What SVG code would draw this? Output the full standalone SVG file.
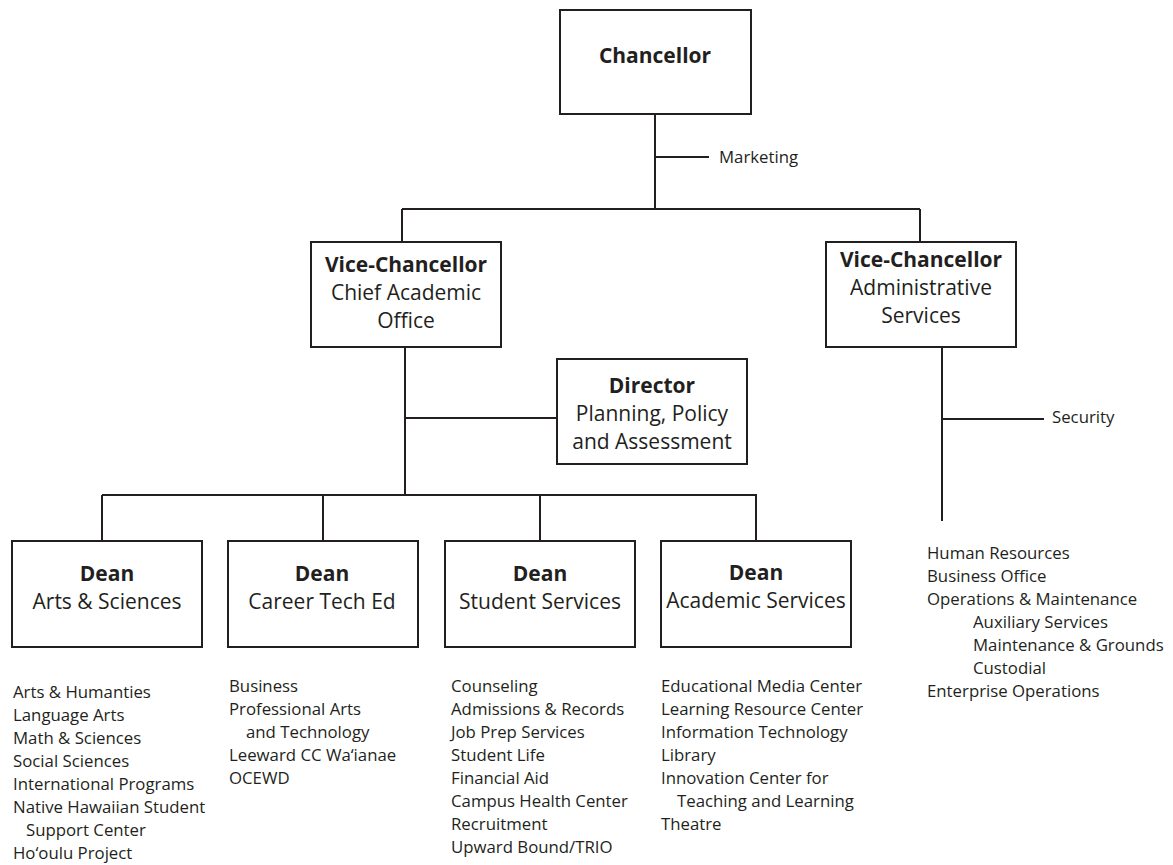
<svg xmlns="http://www.w3.org/2000/svg" width="1173" height="865" viewBox="0 0 1173 865">
<style>
  .box { fill: #ffffff; stroke: #231f20; stroke-width: 2; }
  .ln { fill: none; stroke: #231f20; stroke-width: 2; }
  text { font-family: "Open Sans", "Noto Sans", "Liberation Sans", sans-serif; fill: #231f20; }
  .t { font-size: 21px; text-anchor: middle; }
  .b { font-weight: bold; }
  .l { font-size: 16.8px; }
</style>
<rect width="1173" height="865" fill="#ffffff"/>
<g id="connectors">
  <path class="ln" d="M655 114 V209 M655 157 H709 M402 209 H920 M402 209 V242 M920 209 V242"/>
  <path class="ln" d="M405 347 V495 M405 418 H556 M102 495 H757 M102 495 V541 M323 495 V541 M540 495 V541 M756 495 V541"/>
  <path class="ln" d="M942 347 V521 M942 419 H1044"/>
</g>
<g id="chancellor">
  <rect class="box" x="560" y="10" width="191" height="104"/>
  <text class="t b" x="655" y="63">Chancellor</text>
</g>
<g id="marketing">
  <text class="l" x="719" y="163">Marketing</text>
</g>
<g id="vc-academic">
  <rect class="box" x="311" y="242" width="190" height="105"/>
  <text class="t b" x="406" y="272">Vice-Chancellor</text>
  <text class="t" x="406" y="300">Chief Academic</text>
  <text class="t" x="406" y="328">Office</text>
</g>
<g id="vc-admin">
  <rect class="box" x="826" y="242" width="190" height="105"/>
  <text class="t b" x="921" y="267">Vice-Chancellor</text>
  <text class="t" x="921" y="295">Administrative</text>
  <text class="t" x="921" y="323">Services</text>
</g>
<g id="security">
  <text class="l" x="1052" y="423">Security</text>
</g>
<g id="director">
  <rect class="box" x="557" y="359" width="190" height="105"/>
  <text class="t b" x="652" y="393">Director</text>
  <text class="t" x="652" y="421">Planning, Policy</text>
  <text class="t" x="652" y="449">and Assessment</text>
</g>
<g id="dean-arts">
  <rect class="box" x="12" y="541" width="190" height="106"/>
  <text class="t b" x="107" y="581">Dean</text>
  <text class="t" x="107" y="609">Arts &amp; Sciences</text>
</g>
<g id="dean-cte">
  <rect class="box" x="228" y="541" width="190" height="106"/>
  <text class="t b" x="322" y="581">Dean</text>
  <text class="t" x="322" y="609">Career Tech Ed</text>
</g>
<g id="dean-student">
  <rect class="box" x="445" y="541" width="190" height="106"/>
  <text class="t b" x="540" y="581">Dean</text>
  <text class="t" x="540" y="609">Student Services</text>
</g>
<g id="dean-academic">
  <rect class="box" x="661" y="541" width="190" height="106"/>
  <text class="t b" x="756" y="580">Dean</text>
  <text class="t" x="756" y="608">Academic Services</text>
</g>
<g id="list-arts">
  <text class="l" x="13" y="698">Arts &amp; Humanties</text>
  <text class="l" x="13" y="721">Language Arts</text>
  <text class="l" x="13" y="744">Math &amp; Sciences</text>
  <text class="l" x="13" y="767">Social Sciences</text>
  <text class="l" x="13" y="790">International Programs</text>
  <text class="l" x="13" y="813">Native Hawaiian Student</text>
  <text class="l" x="26" y="836">Support Center</text>
  <text class="l" x="13" y="859">Ho‘oulu Project</text>
</g>
<g id="list-cte">
  <text class="l" x="229" y="692">Business</text>
  <text class="l" x="229" y="715">Professional Arts</text>
  <text class="l" x="246" y="738">and Technology</text>
  <text class="l" x="229" y="761">Leeward CC Wa‘ianae</text>
  <text class="l" x="229" y="784">OCEWD</text>
</g>
<g id="list-student">
  <text class="l" x="451" y="692">Counseling</text>
  <text class="l" x="451" y="715">Admissions &amp; Records</text>
  <text class="l" x="451" y="738">Job Prep Services</text>
  <text class="l" x="451" y="761">Student Life</text>
  <text class="l" x="451" y="784">Financial Aid</text>
  <text class="l" x="451" y="807">Campus Health Center</text>
  <text class="l" x="451" y="830">Recruitment</text>
  <text class="l" x="451" y="853">Upward Bound/TRIO</text>
</g>
<g id="list-academic">
  <text class="l" x="661" y="692">Educational Media Center</text>
  <text class="l" x="661" y="715">Learning Resource Center</text>
  <text class="l" x="661" y="738">Information Technology</text>
  <text class="l" x="661" y="761">Library</text>
  <text class="l" x="661" y="784">Innovation Center for</text>
  <text class="l" x="677" y="807">Teaching and Learning</text>
  <text class="l" x="661" y="830">Theatre</text>
</g>
<g id="list-admin">
  <text class="l" x="927" y="559">Human Resources</text>
  <text class="l" x="927" y="582">Business Office</text>
  <text class="l" x="927" y="605">Operations &amp; Maintenance</text>
  <text class="l" x="973" y="628">Auxiliary Services</text>
  <text class="l" x="973" y="651">Maintenance &amp; Grounds</text>
  <text class="l" x="973" y="674">Custodial</text>
  <text class="l" x="927" y="697">Enterprise Operations</text>
</g>
</svg>
